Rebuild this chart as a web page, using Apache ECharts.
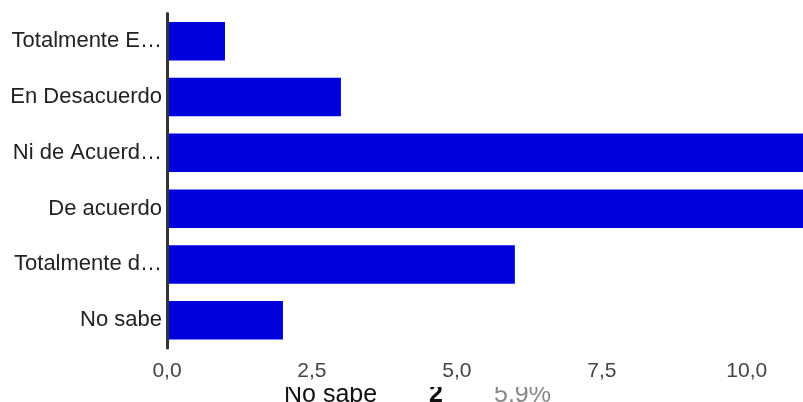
<!DOCTYPE html>
<html>
<head>
<meta charset="utf-8">
<script src="https://cdn.jsdelivr.net/npm/echarts@6/dist/echarts.min.js"></script>
<style>
html,body{margin:0;padding:0;background:#fff;}
#c{width:803px;height:402px;}
</style>
</head>
<body>
<div id="c"></div>
<script>
var categories = ["Totalmente E…", "En Desacuerdo", "Ni de Acuerd…", "De acuerdo", "Totalmente d…", "No sabe"];
var values = [1, 3, 11, 11, 6, 2];
var xTicks = [0, 2.5, 5, 7.5, 10];
var footerLabel = "No sabe";
var footerCount = "2";
var footerPct = "5.9%";

var chart = echarts.init(document.getElementById('c'), null, {renderer: 'canvas'});
chart.setOption({
  animation: false,
  backgroundColor: '#ffffff',
  grid: {left: 167, right: 0, top: 13.4, height: 334.7, containLabel: false},
  xAxis: {
    type: 'value', min: xTicks[0], max: 10.97, interval: xTicks[1] - xTicks[0],
    axisLine: {show: false}, axisTick: {show: false}, splitLine: {show: false},
    axisLabel: {
      showMaxLabel: false, margin: 13, fontSize: 21, color: '#444',
      fontFamily: 'Liberation Sans, Arial, sans-serif',
      formatter: function (v) { return v.toFixed(1).replace('.', ','); }
    }
  },
  yAxis: {
    type: 'category', data: categories, inverse: true, z: 10,
    axisLine: {show: true, lineStyle: {color: '#333', width: 3}},
    axisTick: {show: false}, splitLine: {show: false},
    axisLabel: {margin: 5, fontSize: 22, color: '#222', fontFamily: 'Liberation Sans, Arial, sans-serif'}
  },
  series: [{
    type: 'bar', data: values, barCategoryGap: '31%',
    itemStyle: {color: '#0000dd'}, clip: true
  }],
  graphic: [
    {type: 'text', left: 284, top: 383, z: 1, style: {text: footerLabel, fontSize: 25, fill: '#111', fontFamily: 'Liberation Sans, Arial, sans-serif'}},
    {type: 'text', left: 429, top: 383, z: 1, style: {text: footerCount, fontSize: 25, fontWeight: 'bold', fill: '#111', fontFamily: 'Liberation Sans, Arial, sans-serif'}},
    {type: 'text', left: 494, top: 383, z: 1, style: {text: footerPct, fontSize: 25, fill: '#888', fontFamily: 'Liberation Sans, Arial, sans-serif'}},
    {type: 'rect', left: 270, top: 380, z: 5, shape: {width: 300, height: 7}, style: {fill: '#ffffff'}}
  ]
});
</script>
</body>
</html>
